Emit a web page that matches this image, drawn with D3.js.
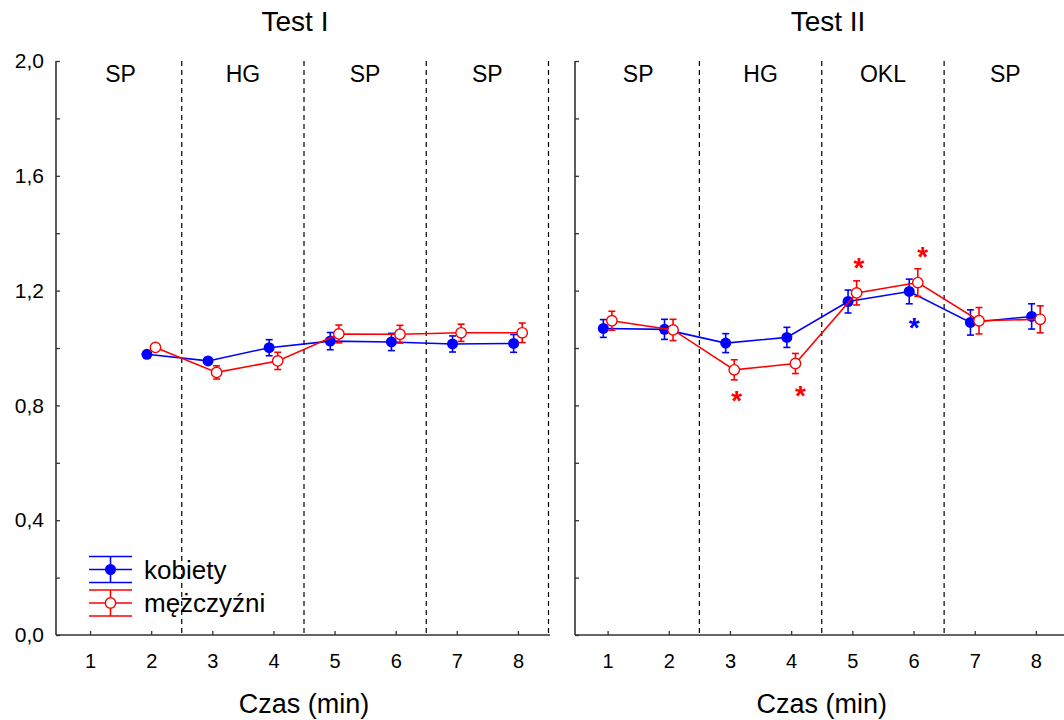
<!DOCTYPE html>
<html>
<head>
<meta charset="utf-8">
<script src="https://cdn.jsdelivr.net/npm/d3@7"></script>
<style>
  body { margin: 0; background: #fff; }
  svg { font-family: "Liberation Sans", Arial, sans-serif; }
  .tick text { font-size: 20px; fill: #000; }
  .yAxis .tick text { font-size: 21px; }
  .tick line { stroke: #333; stroke-width: 1.3; }
  .axisLine { stroke: #333; stroke-width: 1.6; }
  .boundary { stroke: #000; stroke-width: 1.2; stroke-dasharray: 5,4; }
</style>
</head>
<body>
<script>
var w = 1064;
var h = 720;

// data
var minutes = [1, 2, 3, 4, 5, 6, 7, 8];
var boundaries = [2.5, 4.5, 6.5, 8.5];
var sectionCenters = [1.5, 3.5, 5.5, 7.5];
var sections1 = ["SP", "HG", "SP", "SP"];
var sections2 = ["SP", "HG", "OKL", "SP"];
var yTicks = [0, 0.2, 0.4, 0.6, 0.8, 1.0, 1.2, 1.4, 1.6, 1.8, 2.0];

var test1Kobiety   = [null, 0.978, 0.955, 1.001, 1.024, 1.021, 1.014, 1.016];
var test1KobietySE = [null, 0.008, 0.008, 0.028, 0.030, 0.030, 0.028, 0.031];
var test1Mezczyzni   = [null, 1.002, 0.915, 0.955, 1.049, 1.048, 1.053, 1.053];
var test1MezczyzniSE = [null, 0.008, 0.023, 0.030, 0.031, 0.031, 0.030, 0.034];

var test2Kobiety   = [1.068, 1.065, 1.017, 1.037, 1.162, 1.197, 1.089, 1.110];
var test2KobietySE = [0.031, 0.035, 0.033, 0.035, 0.040, 0.043, 0.044, 0.044];
var test2Mezczyzni   = [1.095, 1.063, 0.924, 0.946, 1.192, 1.228, 1.095, 1.100];
var test2MezczyzniSE = [0.033, 0.037, 0.035, 0.035, 0.042, 0.048, 0.046, 0.047];

// significance stars (Test II)
var starX = [3.11, 4.15, 5.11, 6.15, 6.01];
var starY = [0.830, 0.847, 1.295, 1.332, 1.086];
var starSeries = ["m", "m", "m", "m", "k"];

var colors = { k: "#0000ff", m: "#ff0000" };
var offset = { k: -0.07, m: 0.07 };

var panels = [
  { title: "Test I", titleX: 295, axisX: 56, range: [59.5, 548.5], lineEnd: 550,
    sections: sections1, k: test1Kobiety, kSE: test1KobietySE, m: test1Mezczyzni, mSE: test1MezczyzniSE,
    labels: true, stars: false },
  { title: "Test II", titleX: 828, axisX: 575, range: [577, 1066.5], lineEnd: 1064,
    sections: sections2, k: test2Kobiety, kSE: test2KobietySE, m: test2Mezczyzni, mSE: test2MezczyzniSE,
    labels: false, stars: true }
];

var yScale = d3.scaleLinear().domain([0, 2]).range([635, 61]);

var svg = d3.select("body").append("svg")
  .attr("width", w)
  .attr("height", h);

panels.forEach(function(p) {
  var xScale = d3.scaleLinear().domain([0.5, 8.5]).range(p.range);

  // boundaries
  svg.selectAll(null)
    .data(boundaries)
    .enter()
    .append("line")
    .attr("class", "boundary")
    .attr("x1", function(d) { return xScale(d); })
    .attr("x2", function(d) { return xScale(d); })
    .attr("y1", yScale(2))
    .attr("y2", yScale(0));

  // section labels
  svg.selectAll(null)
    .data(p.sections)
    .enter()
    .append("text")
    .attr("x", function(d, i) { return xScale(sectionCenters[i]); })
    .attr("y", 82)
    .attr("text-anchor", "middle")
    .style("font-size", "23px")
    .text(function(d) { return d; });

  // axes
  var yAxis = d3.axisLeft(yScale)
    .tickValues(yTicks)
    .tickSizeInner(-4)
    .tickSizeOuter(0)
    .tickPadding(12)
    .tickFormat(function(d) {
      if (!p.labels) return "";
      var r = Math.round(d * 10);
      return (r % 4 === 0) ? d3.format(".1f")(d).replace(".", ",") : "";
    });

  var gy = svg.append("g")
    .attr("class", "yAxis")
    .attr("transform", "translate(" + p.axisX + ",0)")
    .call(yAxis);
  gy.select(".domain").remove();

  var xAxis = d3.axisBottom(xScale)
    .tickValues(minutes)
    .tickSizeInner(-4)
    .tickSizeOuter(0)
    .tickPadding(19)
    .tickFormat(d3.format("d"));

  var gx = svg.append("g")
    .attr("class", "xAxis")
    .attr("transform", "translate(0," + yScale(0) + ")")
    .call(xAxis);
  gx.select(".domain").remove();

  svg.append("line")
    .attr("class", "axisLine")
    .attr("x1", p.axisX).attr("x2", p.axisX)
    .attr("y1", yScale(2)).attr("y2", yScale(0));
  svg.append("line")
    .attr("class", "axisLine")
    .attr("x1", p.axisX).attr("x2", p.lineEnd)
    .attr("y1", yScale(0)).attr("y2", yScale(0));

  // titles
  svg.append("text")
    .attr("x", p.titleX)
    .attr("y", 31)
    .attr("text-anchor", "middle")
    .style("font-size", "28px")
    .text(p.title);

  svg.append("text")
    .attr("x", xScale(4.5))
    .attr("y", 713)
    .attr("text-anchor", "middle")
    .style("font-size", "27px")
    .text("Czas (min)");

  // series
  ["k", "m"].forEach(function(s) {
    var pts = minutes.map(function(t, i) {
      return { t: t + offset[s], v: p[s][i], se: p[s + "SE"][i] };
    }).filter(function(d) { return d.v !== null; });

    var line = d3.line()
      .x(function(d) { return xScale(d.t); })
      .y(function(d) { return yScale(d.v); });

    svg.append("path")
      .datum(pts)
      .attr("d", line)
      .attr("fill", "none")
      .attr("stroke", colors[s])
      .attr("stroke-width", 1.6);

    var eb = svg.selectAll(null)
      .data(pts)
      .enter()
      .append("g")
      .attr("stroke", colors[s])
      .attr("stroke-width", 1.6);
    eb.append("line")
      .attr("x1", function(d) { return xScale(d.t); })
      .attr("x2", function(d) { return xScale(d.t); })
      .attr("y1", function(d) { return yScale(d.v - d.se); })
      .attr("y2", function(d) { return yScale(d.v + d.se); });
    [-1, 1].forEach(function(sign) {
      eb.append("line")
        .attr("x1", function(d) { return xScale(d.t) - 3.5; })
        .attr("x2", function(d) { return xScale(d.t) + 3.5; })
        .attr("y1", function(d) { return yScale(d.v + sign * d.se); })
        .attr("y2", function(d) { return yScale(d.v + sign * d.se); });
    });

    svg.selectAll(null)
      .data(pts)
      .enter()
      .append("circle")
      .attr("cx", function(d) { return xScale(d.t); })
      .attr("cy", function(d) { return yScale(d.v); })
      .attr("r", s === "k" ? 5.5 : 5.2)
      .attr("fill", s === "k" ? colors.k : "#fff")
      .attr("stroke", colors[s])
      .attr("stroke-width", s === "k" ? 0 : 1.4);
  });

  if (p.stars) {
    svg.selectAll(null)
      .data(starX)
      .enter()
      .append("text")
      .attr("x", function(d) { return xScale(d); })
      .attr("y", function(d, i) { return yScale(starY[i]); })
      .attr("dy", "0.48em")
      .attr("text-anchor", "middle")
      .attr("fill", function(d, i) { return colors[starSeries[i]]; })
      .style("font-size", "28px")
      .style("font-weight", "bold")
      .text("*");
  }
});

// legend
var legendItems = [
  { key: "k", label: "kobiety", y: 569.5 },
  { key: "m", label: "mężczyźni", y: 603 }
];
legendItems.forEach(function(d) {
  var g = svg.append("g").attr("stroke", colors[d.key]).attr("stroke-width", 1.6);
  [-13, 0, 13].forEach(function(dy) {
    g.append("line").attr("x1", 89).attr("x2", 132).attr("y1", d.y + dy).attr("y2", d.y + dy);
  });
  g.append("line").attr("x1", 110.5).attr("x2", 110.5).attr("y1", d.y - 13).attr("y2", d.y + 13);
  g.append("circle")
    .attr("cx", 110.5).attr("cy", d.y)
    .attr("r", d.key === "k" ? 5.5 : 5.2)
    .attr("fill", d.key === "k" ? colors.k : "#fff")
    .attr("stroke-width", d.key === "k" ? 0 : 1.4);
  svg.append("text")
    .attr("x", 144)
    .attr("y", d.y)
    .attr("dy", "0.35em")
    .style("font-size", "26px")
    .text(d.label);
});
</script>
</body>
</html>
